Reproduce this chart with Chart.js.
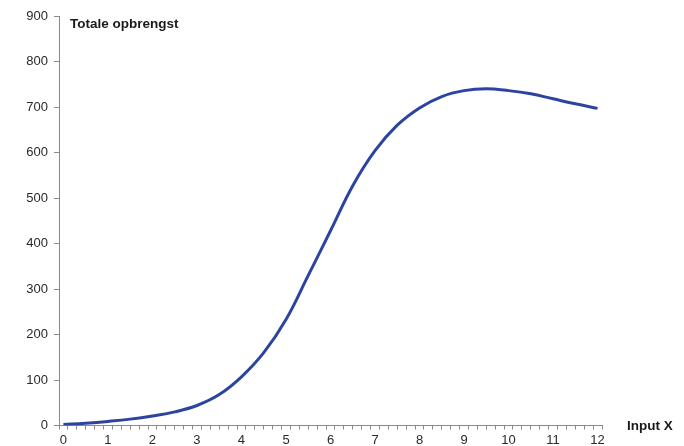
<!DOCTYPE html>
<html>
<head>
<meta charset="utf-8">
<script src="https://cdn.jsdelivr.net/npm/chart.js@4.4.1/dist/chart.umd.min.js"></script>
<style>
  html, body { margin: 0; padding: 0; background: #ffffff; }
  #wrap { width: 684px; height: 446px; position: relative; }
</style>
</head>
<body>
<div id="wrap"><canvas id="c" width="684" height="446"></canvas></div>
<script>
// Input X values and total revenue
const inputX = [0, 0.5, 1, 1.5, 2, 2.5, 3, 3.5, 4, 4.5, 5, 5.5, 6, 6.5, 7, 7.5, 8, 8.5, 9, 9.5, 10, 10.5, 11, 11.5, 12];
const totalRevenue = [2, 5, 9, 14, 21, 30, 44, 68, 107, 160, 233, 330, 428, 527, 604, 660, 698, 723, 736, 740, 736, 729, 718, 707, 697];
const xLabels = [0, 1, 2, 3, 4, 5, 6, 7, 8, 9, 10, 11, 12];
const yTicks = [0, 100, 200, 300, 400, 500, 600, 700, 800, 900];
const yTitle = 'Totale opbrengst';
const xTitle = 'Input X';

const isInt = v => Math.abs(v - Math.round(v)) < 1e-6;
const axisGray = '#8a8a8a';
const textColor = '#2a2a2a';

const textPlugin = {
  id: 'axisTexts',
  afterDraw(chart) {
    const ctx = chart.ctx;
    ctx.save();
    ctx.fillStyle = '#1a1a1a';
    ctx.textBaseline = 'alphabetic';
    ctx.textAlign = 'left';
    ctx.font = 'bold 13.5px "Liberation Sans", Arial, sans-serif';
    ctx.fillText(yTitle, 70, 27.5);
    ctx.fillText(xTitle, 627, 430);
    ctx.restore();
  }
};

new Chart(document.getElementById('c'), {
  type: 'line',
  data: {
    datasets: [{
      data: inputX.map((x, i) => ({ x: x, y: totalRevenue[i] })),
      borderColor: '#2c44a0',
      borderWidth: 3,
      pointRadius: 0,
      fill: false,
      tension: 0.4
    }]
  },
  options: {
    responsive: false,
    animation: false,
    layout: { padding: { top: 16, right: 82, left: 0, bottom: 0 } },
    plugins: { legend: { display: false }, tooltip: { enabled: false }, title: { display: false } },
    scales: {
      x: {
        type: 'linear',
        min: -0.1,
        max: 12.1,
        afterBuildTicks: (scale) => {
          const t = [];
          for (let k = 0; k <= 61; k++) t.push({ value: Math.round((-0.1 + 0.2 * k) * 1e6) / 1e6 });
          xLabels.forEach(v => t.push({ value: v }));
          t.sort((a, b) => a.value - b.value);
          scale.ticks = t;
        },
        afterFit: (scale) => { scale.height = 20.5; },
        grid: {
          display: true,
          drawOnChartArea: false,
          drawTicks: true,
          tickLength: 4,
          tickColor: (ctx) => (ctx.tick && isInt(ctx.tick.value)) ? 'rgba(0,0,0,0)' : axisGray,
          tickWidth: 1
        },
        border: { display: true, color: axisGray, width: 1 },
        ticks: {
          autoSkip: false,
          maxRotation: 0,
          minRotation: 0,
          padding: 4,
          color: textColor,
          font: { family: '"Liberation Sans", Arial, sans-serif', size: 13, lineHeight: 1 },
          callback: (v) => isInt(v) ? String(Math.round(v)) : ''
        }
      },
      y: {
        type: 'linear',
        min: yTicks[0],
        max: yTicks[yTicks.length - 1],
        afterBuildTicks: (scale) => { scale.ticks = yTicks.map(v => ({ value: v })); },
        afterFit: (scale) => { scale.width = 59; },
        grid: {
          display: true,
          drawOnChartArea: false,
          drawTicks: true,
          tickLength: 5,
          tickColor: axisGray,
          tickWidth: 1
        },
        border: { display: true, color: axisGray, width: 1 },
        ticks: {
          padding: 6,
          color: textColor,
          font: { family: '"Liberation Sans", Arial, sans-serif', size: 13 }
        }
      }
    }
  },
  plugins: [textPlugin]
});
</script>
</body>
</html>
